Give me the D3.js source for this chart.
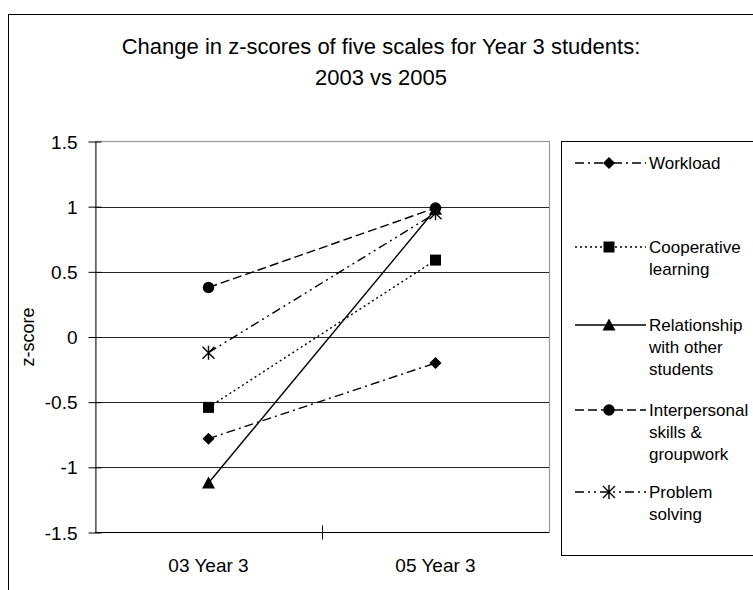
<!DOCTYPE html>
<html><head><meta charset="utf-8">
<script src="https://cdn.jsdelivr.net/npm/d3@7"></script>
<style>body{margin:0;background:#fff}svg{display:block;font-family:"Liberation Sans",Arial,sans-serif}</style>
</head><body><svg id="c" width="753" height="590"></svg>
<script>
const categories = ["03 Year 3", "05 Year 3"];
const seriesNames = ["Workload", "Cooperative learning", "Relationship with other students", "Interpersonal skills & groupwork", "Problem solving"];
const legendLines = [["Workload"], ["Cooperative", "learning"], ["Relationship", "with other", "students"], ["Interpersonal", "skills &", "groupwork"], ["Problem", "solving"]];
const workload = [-0.78, -0.2];
const cooperative = [-0.54, 0.59];
const relationship = [-1.12, 0.98];
const interpersonal = [0.38, 0.99];
const problemSolving = [-0.12, 0.95];
const yTicks = [-1.5, -1, -0.5, 0, 0.5, 1, 1.5];
const yTickLabels = ["-1.5", "-1", "-0.5", "0", "0.5", "1", "1.5"];
const title = ["Change in z-scores of five scales for Year 3 students:", "2003 vs 2005"];

const seriesValues = [workload, cooperative, relationship, interpersonal, problemSolving];
const dashes = ["9,4,2,4", "2,3", null, "9,4", "9,4,2,4,2,4"];
const markers = ["diamond", "square", "triangle", "circle", "star"];

const svg = d3.select("#c");
// outer frame
svg.append("rect").attr("x", 8.5).attr("y", 14.5).attr("width", 760).attr("height", 600)
  .attr("fill", "#fff").attr("stroke", "#000").attr("stroke-width", 1);

// title
svg.append("g").selectAll("text").data(title).join("text")
  .attr("x", 381).attr("y", (d, i) => 54 + i * 31)
  .attr("text-anchor", "middle").attr("font-size", 22).text(d => d);

const L = 95, R = 549, T = 141.5, B = 532.5;
const x = d3.scaleBand().domain(categories).range([L, R]).padding(0);
const y = d3.scaleLinear().domain([-1.5, 1.5]).range([B, T]);

// plot border
svg.append("rect").attr("x", L + 0.5).attr("y", T).attr("width", R - L).attr("height", B - T)
  .attr("fill", "none").attr("stroke", "#999").attr("stroke-width", 1.2);

// gridlines
svg.append("g").selectAll("line").data(yTicks.filter(t => t > -1.5 && t < 1.5)).join("line")
  .attr("x1", L).attr("x2", R).attr("y1", d => Math.round(y(d)) + 0.5).attr("y2", d => Math.round(y(d)) + 0.5)
  .attr("stroke", "#000").attr("stroke-width", 1).attr("stroke-opacity", 0.85);

// y axis
const yAxis = d3.axisLeft(y).tickValues(yTicks).tickSize(0).tickPadding(0)
  .tickFormat((d, i) => yTickLabels[i]);
const gy = svg.append("g").attr("transform", `translate(${L + 0.5},0)`).call(yAxis);
gy.select(".domain").attr("stroke", "#444").attr("stroke-width", 1.2);
gy.selectAll(".tick text").attr("x", -18).attr("font-size", 19).attr("fill", "#000")
  .attr("font-family", "Liberation Sans, Arial, sans-serif").attr("dy", "0.35em");
gy.selectAll(".tick").append("line").attr("x1", -7).attr("x2", 6).attr("stroke", "#000");

// x axis
const gx = svg.append("g").attr("transform", `translate(0,${B})`);
gx.append("line").attr("x1", L).attr("x2", R).attr("stroke", "#000").attr("stroke-width", 1.2);
const bounds = [x.range()[0] + x.bandwidth()];
gx.selectAll("line.tk").data(bounds).join("line").attr("class", "tk")
  .attr("x1", d => d + 0.5).attr("x2", d => d + 0.5).attr("y1", -7).attr("y2", 7).attr("stroke", "#000");
gx.selectAll("text").data(categories).join("text")
  .attr("x", d => x(d) + x.bandwidth() / 2).attr("y", 39).attr("text-anchor", "middle")
  .attr("font-size", 19).text(d => d);

// y axis title
svg.append("text").attr("transform", `translate(34,${(T + B) / 2}) rotate(-90)`)
  .attr("text-anchor", "middle").attr("font-size", 18).text("z-score");

function drawMarker(g, type, cx, cy) {
  const s = 6;
  if (type === "diamond") g.append("path").attr("d", `M${cx},${cy - s}L${cx + s},${cy}L${cx},${cy + s}L${cx - s},${cy}Z`).attr("fill", "#000");
  else if (type === "square") g.append("rect").attr("x", cx - 5.5).attr("y", cy - 5.5).attr("width", 11).attr("height", 11).attr("fill", "#000");
  else if (type === "triangle") g.append("path").attr("d", `M${cx},${cy - 6.5}L${cx + 6.5},${cy + 5.5}L${cx - 6.5},${cy + 5.5}Z`).attr("fill", "#000");
  else if (type === "circle") g.append("circle").attr("cx", cx).attr("cy", cy).attr("r", 5.7).attr("fill", "#000");
  else if (type === "star") {
    g.append("path").attr("d", `M${cx - 6},${cy - 6}L${cx + 6},${cy + 6}M${cx + 6},${cy - 6}L${cx - 6},${cy + 6}M${cx},${cy - 7}L${cx},${cy + 7}`)
      .attr("stroke", "#000").attr("stroke-width", 1.4).attr("fill", "none");
  }
}

const line = d3.line().x((d, i) => x(categories[i]) + x.bandwidth() / 2).y(d => y(d));
const plot = svg.append("g");
seriesValues.forEach((vals, si) => {
  plot.append("path").attr("d", line(vals)).attr("fill", "none").attr("stroke", "#000")
    .attr("stroke-width", 1.4).attr("stroke-dasharray", dashes[si]);
});
seriesValues.forEach((vals, si) => {
  vals.forEach((v, i) => drawMarker(plot, markers[si], x(categories[i]) + x.bandwidth() / 2, y(v)));
});

// legend
const lg = svg.append("g");
lg.append("rect").attr("x", 561.5).attr("y", 141.5).attr("width", 220).attr("height", 414)
  .attr("fill", "#fff").attr("stroke", "#000").attr("stroke-width", 1);
const legendY = [163, 247, 325, 410, 492];
seriesNames.forEach((name, si) => {
  const g = lg.append("g");
  const ly = legendY[si];
  g.append("line").attr("x1", 575).attr("x2", 646).attr("y1", ly).attr("y2", ly)
    .attr("stroke", "#000").attr("stroke-width", 1.4).attr("stroke-dasharray", dashes[si]);
  drawMarker(g, markers[si], 609, ly);
  g.selectAll("text").data(legendLines[si]).join("text")
    .attr("x", 649).attr("y", (d, i) => ly + 6 + i * 22).attr("font-size", 17).text(d => d);
});
</script></body></html>
